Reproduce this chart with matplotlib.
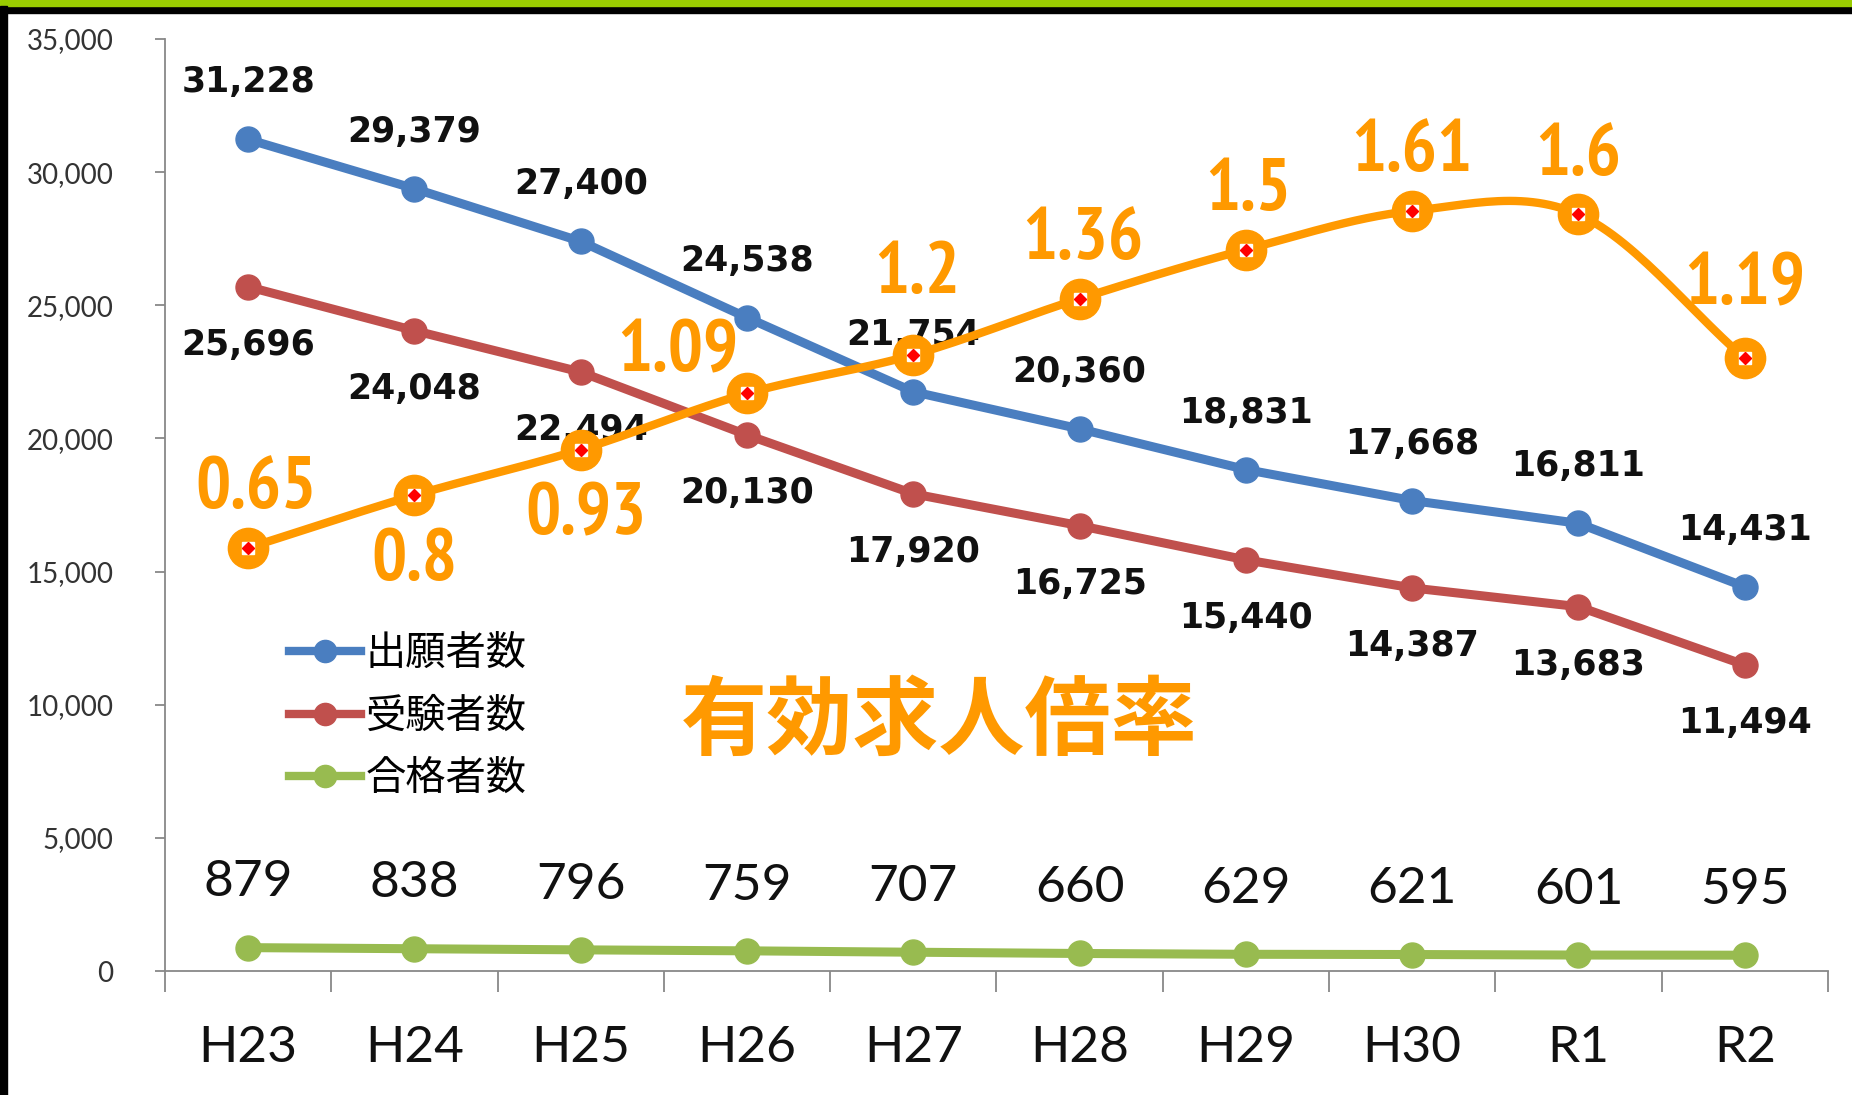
import numpy as np
import matplotlib.pyplot as plt
from matplotlib.lines import Line2D
from matplotlib.patches import Rectangle
from matplotlib.ticker import FuncFormatter, FixedLocator

years = ['H23', 'H24', 'H25', 'H26', 'H27', 'H28', 'H29', 'H30', 'R1', 'R2']
applicants = [31228, 29379, 27400, 24538, 21754, 20360, 18831, 17668, 16811, 14431]
examinees = [25696, 24048, 22494, 20130, 17920, 16725, 15440, 14387, 13683, 11494]
passers = [879, 838, 796, 759, 707, 660, 629, 621, 601, 595]
job_ratio = [0.65, 0.8, 0.93, 1.09, 1.2, 1.36, 1.5, 1.61, 1.6, 1.19]

series_names = ['出願者数', '受験者数', '合格者数']
ratio_title = '有効求人倍率'

BLUE = '#4A7EC0'
RED = '#C0504D'
GREEN = '#98BB50'
ORANGE = '#FF9900'

# where each ratio label sits relative to its point (points)
ratio_offsets = [(6, 42), (0, -48), (4, -48), (-50, 29), (3, 58),
                 (2, 42), (2, 42), (0, 42), (0, 42), (0, 52)]

NARROW = ['PT Sans Narrow', 'Roboto Condensed', 'DejaVu Sans']
JP = ['Noto Sans CJK JP', 'DejaVu Sans']


def catmull_rom(xs, ys, n=30):
    # smooth curve through the points, like Excel's "smoothed line"
    p = np.column_stack([xs, ys]).astype(float)
    p = np.vstack([2 * p[0] - p[1], p, 2 * p[-1] - p[-2]])
    t = np.linspace(0, 1, n)[:, None]
    out = []
    for i in range(1, len(p) - 2):
        p0, p1, p2, p3 = p[i - 1], p[i], p[i + 1], p[i + 2]
        seg = 0.5 * (2 * p1 + (-p0 + p2) * t
                     + (2 * p0 - 5 * p1 + 4 * p2 - p3) * t ** 2
                     + (-p0 + 3 * p1 - 3 * p2 + p3) * t ** 3)
        out.append(seg)
    seg = np.vstack(out)
    return seg[:, 0], seg[:, 1]


fig = plt.figure(figsize=(18.52, 10.95), dpi=100)

# frame decoration: green bar + black rule on top, black bar on the left
fig.patches.append(Rectangle((0, 1 - 13 / 1095), 1, 7 / 1095, transform=fig.transFigure,
                             color='black', zorder=0))
fig.patches.append(Rectangle((0, 1 - 6 / 1095), 1, 6 / 1095, transform=fig.transFigure,
                             color='#99CC00', zorder=0))
fig.patches.append(Rectangle((0, 0), 7 / 1852, 1 - 6 / 1095, transform=fig.transFigure,
                             color='black', zorder=0))

ax = fig.add_axes([0.0891, 0.1132, 0.8979, 0.8512])
x = np.arange(len(years))

ax.plot(x, examinees, color=RED, lw=6.5, marker='o', ms=18, zorder=3)
ax.plot(x, applicants, color=BLUE, lw=6.5, marker='o', ms=18, zorder=4)
ax.plot(x, passers, color=GREEN, lw=6.5, marker='o', ms=18, zorder=3)

for xi, v in zip(x, applicants):
    ax.annotate(f'{v:,}', (xi, v), xytext=(0, 41), textcoords='offset points',
                ha='center', va='center', fontsize=25, fontweight='bold', color='#111111')
for xi, v in zip(x, examinees):
    ax.annotate(f'{v:,}', (xi, v), xytext=(0, -42), textcoords='offset points',
                ha='center', va='center', fontsize=25, fontweight='bold', color='#111111')
for xi, v in zip(x, passers):
    ax.annotate(f'{v:,}', (xi, v), xytext=(0, 47), textcoords='offset points',
                ha='center', va='center', fontsize=37, family='Lato', color='#111111')

ax.set_xlim(-0.5, len(years) - 0.5)
ax.set_ylim(0, 35000)
ax.set_yticks(np.arange(0, 35001, 5000))
ax.yaxis.set_major_formatter(FuncFormatter(lambda v, _: f'{int(v):,}'))
ax.set_xticks(x)
ax.set_xticklabels(years)
ax.xaxis.set_minor_locator(FixedLocator(np.arange(-0.5, len(years), 1.0)))

for side in ['top', 'right']:
    ax.spines[side].set_visible(False)
for side in ['left', 'bottom']:
    ax.spines[side].set_color('#888888')
    ax.spines[side].set_linewidth(1.3)

ax.tick_params(axis='y', length=7, width=1.3, color='#888888', pad=30,
               labelsize=20, labelcolor='#333333')
ax.tick_params(axis='x', which='major', length=0, pad=39, labelsize=37, labelcolor='#111111')
ax.tick_params(axis='x', which='minor', length=15, width=1.3, color='#888888')
for lab in ax.get_yticklabels() + ax.get_xticklabels():
    lab.set_family('Lato')

# ratio on a hidden second scale
ax2 = ax.twinx()
ax2.set_ylim(-0.556, 2.10)
ax2.set_axis_off()
sx, sy = catmull_rom(x, job_ratio)
ax2.plot(sx, sy, color=ORANGE, lw=6, solid_capstyle='round', zorder=5)
ax2.plot(x, job_ratio, ls='none', marker='o', ms=29, color=ORANGE, zorder=6)
ax2.plot(x, job_ratio, ls='none', marker='s', ms=8, color='white', zorder=7)
ax2.plot(x, job_ratio, ls='none', marker='D', ms=6, color='red', zorder=8)
for xi, v, off in zip(x, job_ratio, ratio_offsets):
    ax2.annotate(f'{v:g}', (xi, v), xytext=off, textcoords='offset points',
                 ha='center', va='center', fontsize=53, fontweight='bold', color=ORANGE,
                 family=NARROW)

handles = [Line2D([], [], color=c, lw=6, marker='o', ms=16) for c in (BLUE, RED, GREEN)]
fig.legend(handles, series_names, loc='center left', bbox_to_anchor=(0.156, 0.346),
           bbox_transform=fig.transFigure, frameon=False, borderpad=0, borderaxespad=0,
           handlelength=1.8, handletextpad=0.1, labelspacing=0.53,
           prop={'family': JP, 'size': 29})

fig.text(0.507, 0.340, ratio_title, ha='center', va='center', fontsize=62,
         fontweight='bold', color=ORANGE, family=JP)

fig.savefig('out.png', dpi=100)
